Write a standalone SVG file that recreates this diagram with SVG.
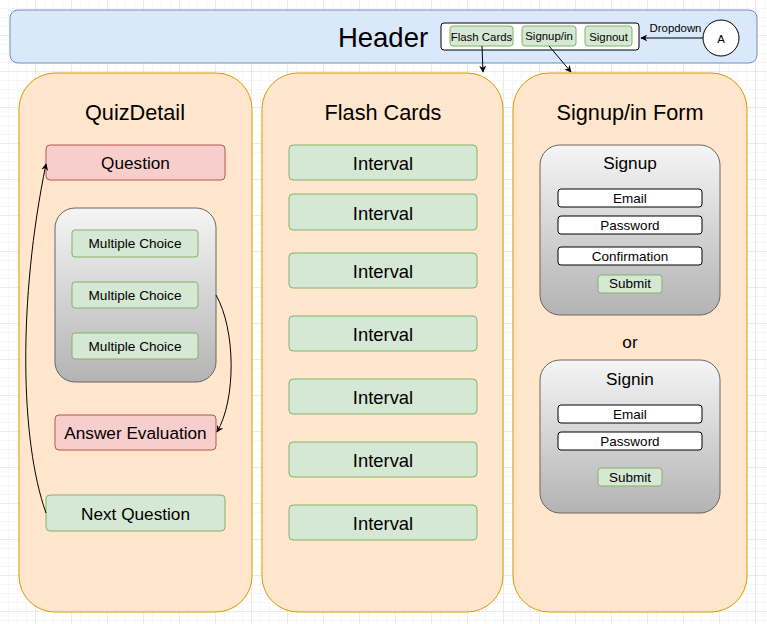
<svg xmlns="http://www.w3.org/2000/svg" width="767" height="624" viewBox="0 0 767 624">
<defs>
<pattern id="minor" width="9" height="9" patternUnits="userSpaceOnUse"><path d="M9 0V9H0" fill="none" stroke="#efefef" stroke-width="1"/></pattern>
<pattern id="major" width="36" height="36" patternUnits="userSpaceOnUse"><rect width="36" height="36" fill="url(#minor)"/><path d="M36 0V36H0" fill="none" stroke="#dedede" stroke-width="1"/></pattern>
<linearGradient id="gray" x1="0" y1="0" x2="0" y2="1"><stop offset="0" stop-color="#f5f5f5"/><stop offset="1" stop-color="#b3b3b3"/></linearGradient>
<marker id="arr" viewBox="0 0 10 10" refX="9" refY="5" markerWidth="7" markerHeight="7" orient="auto-start-reverse" markerUnits="userSpaceOnUse"><path d="M0 0L10 5L0 10L3 5Z" fill="#000"/></marker>
</defs>
<style>
text{font-family:"Liberation Sans",Arial,sans-serif;fill:#000;text-anchor:middle;dominant-baseline:central}
.col{fill:#ffe6cc;stroke:#d79b00;stroke-width:1}
.red{fill:#f8cecc;stroke:#b85450;stroke-width:1}
.green{fill:#d5e8d4;stroke:#82b366;stroke-width:1}
.grayc{fill:url(#gray);stroke:#666;stroke-width:1}
.inp{fill:#fff;stroke:#000;stroke-width:1}
.edge{fill:none;stroke:#000;stroke-width:1}
.ttl{font-size:21.7px}
.big{font-size:17.2px}
.iv{font-size:18.4px}
.mc{font-size:13.6px}
.sm{font-size:13.5px}
.xs{font-size:11.4px}
</style>
<rect width="767" height="624" fill="#fff"/>
<rect width="767" height="624" fill="url(#major)"/>

<g id="header">
<rect x="10" y="10" width="747" height="53" rx="8" fill="#dae8fc" stroke="#6c8ebf"/>
<text x="383" y="37" font-size="27.5">Header</text>
</g>
<g id="menu">
<rect x="441" y="23" width="198" height="27" rx="3" fill="#fff" stroke="#000"/>
</g>
<g id="btn-flash"><rect class="green" x="450" y="26" width="63" height="20" rx="3"/><text class="xs" x="481.5" y="36.5">Flash Cards</text></g>
<g id="btn-signup"><rect class="green" x="522" y="26" width="54" height="20" rx="3"/><text class="xs" x="549" y="36">Signup/in</text></g>
<g id="btn-signout"><rect class="green" x="585" y="26" width="47" height="20" rx="3"/><text class="xs" x="608.5" y="36.5">Signout</text></g>
<g id="circleA"><circle cx="721" cy="38" r="18" fill="#fff" stroke="#000"/><text class="xs" x="721" y="38.5">A</text></g>

<g id="col-quiz">
<rect class="col" x="19" y="73" width="233" height="539" rx="36"/>
<text class="ttl" x="135" y="112">QuizDetail</text>
</g>
<g id="col-flash">
<rect class="col" x="262" y="73" width="241" height="539" rx="36"/>
<text class="ttl" x="383" y="112">Flash Cards</text>
</g>
<g id="col-sign">
<rect class="col" x="513" y="73" width="234" height="539" rx="36"/>
<text class="ttl" x="630" y="112">Signup/in Form</text>
</g>

<g id="question"><rect class="red" x="46" y="145" width="179" height="35" rx="4"/><text class="big" x="135.5" y="163">Question</text></g>
<g id="choices">
<rect class="grayc" x="55" y="208" width="161" height="174" rx="20"/>
</g>
<g id="mc1"><rect class="green" x="72" y="230" width="126" height="27" rx="3"/><text class="mc" x="135" y="243.5">Multiple Choice</text></g>
<g id="mc2"><rect class="green" x="72" y="282" width="126" height="26" rx="3"/><text class="mc" x="135" y="295">Multiple Choice</text></g>
<g id="mc3"><rect class="green" x="72" y="333" width="126" height="26" rx="3"/><text class="mc" x="135" y="346">Multiple Choice</text></g>
<g id="answer"><rect class="red" x="55" y="415" width="161" height="35" rx="4"/><text class="big" x="135.5" y="433">Answer Evaluation</text></g>
<g id="next"><rect class="green" x="46" y="495" width="179" height="36" rx="4"/><text class="big" x="135.5" y="514">Next Question</text></g>

<g id="intervals">
<g id="int1"><rect class="green" x="289" y="145" width="188" height="35" rx="4"/><text class="iv" x="383" y="163">Interval</text></g>
<g id="int2"><rect class="green" x="289" y="194" width="188" height="36" rx="4"/><text class="iv" x="383" y="213">Interval</text></g>
<g id="int3"><rect class="green" x="289" y="253" width="188" height="35" rx="4"/><text class="iv" x="383" y="271">Interval</text></g>
<g id="int4"><rect class="green" x="289" y="316" width="188" height="35" rx="4"/><text class="iv" x="383" y="334">Interval</text></g>
<g id="int5"><rect class="green" x="289" y="379" width="188" height="35" rx="4"/><text class="iv" x="383" y="397">Interval</text></g>
<g id="int6"><rect class="green" x="289" y="442" width="188" height="35" rx="4"/><text class="iv" x="383" y="460">Interval</text></g>
<g id="int7"><rect class="green" x="289" y="505" width="188" height="35" rx="4"/><text class="iv" x="383" y="523">Interval</text></g>
</g>

<g id="signup">
<rect class="grayc" x="540" y="145" width="180" height="170" rx="20"/>
<text class="big" x="630" y="163">Signup</text>
<rect class="inp" x="558" y="189" width="144" height="18" rx="3"/><text class="sm" x="630" y="198.5">Email</text>
<rect class="inp" x="558" y="216" width="144" height="18" rx="3"/><text class="sm" x="630" y="225.5">Password</text>
<rect class="inp" x="558" y="247" width="144" height="18" rx="3"/><text class="sm" x="630" y="256.5">Confirmation</text>
<rect class="green" x="598" y="275" width="64" height="18" rx="3"/><text class="sm" x="630" y="283.5">Submit</text>
</g>
<g id="or"><text class="big" x="630" y="342">or</text></g>
<g id="signin">
<rect class="grayc" x="540" y="360" width="180" height="153" rx="20"/>
<text class="big" x="630" y="379">Signin</text>
<rect class="inp" x="558" y="405" width="144" height="18" rx="3"/><text class="sm" x="630" y="414.5">Email</text>
<rect class="inp" x="558" y="432" width="144" height="18" rx="3"/><text class="sm" x="630" y="441.5">Password</text>
<rect class="green" x="598" y="468" width="64" height="18" rx="3"/><text class="sm" x="630" y="477">Submit</text>
</g>

<g id="connectors">
<path class="edge" d="M703 38H641" marker-end="url(#arr)"/>
<text class="xs" x="675.5" y="28">Dropdown</text>
<path class="edge" d="M482 46L483 72" marker-end="url(#arr)"/>
<path class="edge" d="M549 46L571 72" marker-end="url(#arr)"/>
<path class="edge" d="M216 295C236 330 236 400 217 432" marker-end="url(#arr)"/>
<path class="edge" d="M46 513C20 440 18 300 46 164" marker-end="url(#arr)"/>
</g>
</svg>
